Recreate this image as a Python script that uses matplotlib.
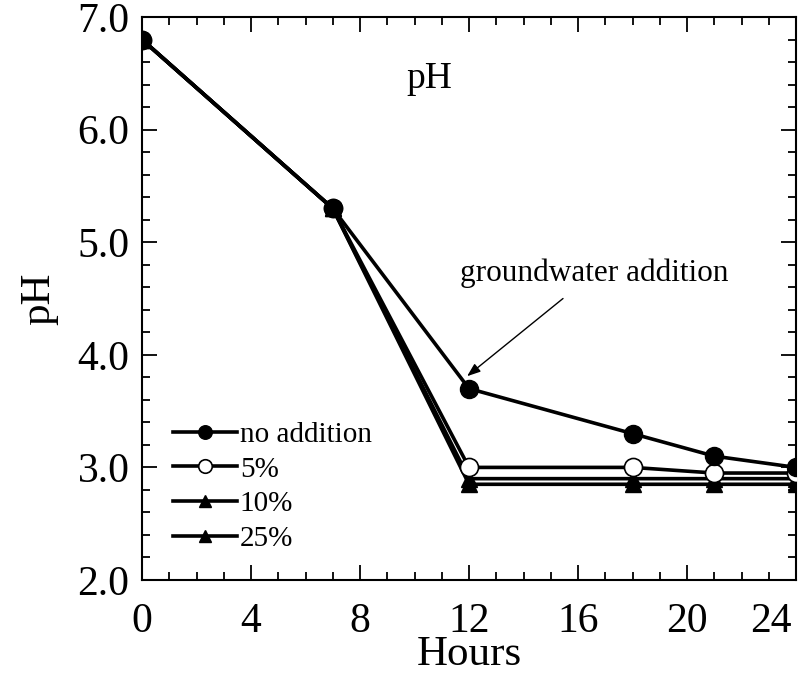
import matplotlib
matplotlib.use("Agg")
import matplotlib.pyplot as plt
from matplotlib.ticker import MultipleLocator
from matplotlib.transforms import ScaledTranslation

plt.rcParams['font.family'] = ['Liberation Serif', 'DejaVu Serif']

hours = [0, 7, 12, 18, 21, 24]
ph_none = [6.8, 5.3, 3.7, 3.3, 3.1, 3.0]
ph_5 = [6.8, 5.3, 3.0, 3.0, 2.95, 2.95]
ph_10 = [6.8, 5.3, 2.9, 2.9, 2.9, 2.9]
ph_25 = [6.8, 5.3, 2.85, 2.85, 2.85, 2.85]
labels = ['no addition', '5%', '10%', '25%']
xticks = [0, 4, 8, 12, 16, 20, 24]
yticks = [2.0, 3.0, 4.0, 5.0, 6.0, 7.0]

fig = plt.figure(figsize=(8.05, 6.74), dpi=100)
ax = fig.add_axes([142/805, 1-580/674, (796-142)/805, (580-17)/674])

lw = 2.6
ax.plot(hours, ph_25, '-^', color='black', lw=lw, ms=12, mfc='black', mec='black', label=labels[3], zorder=3)
ax.plot(hours, ph_10, '-^', color='black', lw=lw, ms=12, mfc='black', mec='black', label=labels[2], zorder=3)
ax.plot(hours, ph_5, '-o', color='black', lw=lw, ms=13, mfc='white', mec='black', mew=1.2, label=labels[1], zorder=4)
ax.plot(hours, ph_none, '-o', color='black', lw=lw, ms=13, mfc='black', mec='black', label=labels[0], zorder=5)

ax.set_xlim(0, 24)
ax.set_ylim(2.0, 7.0)
ax.set_xticks(xticks)
ax.set_xticklabels([str(v) for v in xticks])
ax.xaxis.set_minor_locator(MultipleLocator(1))
ax.set_yticks(yticks)
ax.set_yticklabels([f"{v:.1f}" for v in yticks])
ax.yaxis.set_minor_locator(MultipleLocator(0.2))
ax.tick_params(which='both', direction='in', top=True, right=True, width=1.3)
ax.tick_params(which='major', length=11, labelsize=30)
ax.tick_params(axis='y', which='major', pad=9)
ax.tick_params(axis='x', which='major', pad=16)
ax.tick_params(which='minor', length=6)
for s in ax.spines.values():
    s.set_linewidth(1.5)

last = ax.get_xticklabels()[-1]
last.set_ha('right')
last.set_transform(last.get_transform() + ScaledTranslation(-4/100, 0, fig.dpi_scale_trans))

ax.set_xlabel('Hours', fontsize=31, labelpad=-4)
ax.set_ylabel('pH', fontsize=31, labelpad=14)
ax.text(10.55, 6.45, 'pH', fontsize=27, ha='center', va='center')

ax.text(16.6, 4.72, 'groundwater addition', fontsize=22.5, ha='center', va='center')
ax.annotate('', xy=(11.93, 3.81), xytext=(15.45, 4.50),
            arrowprops=dict(arrowstyle='-|>,head_length=0.8,head_width=0.3',
                            color='black', lw=1.0, shrinkA=0, shrinkB=0))

handles, labs = ax.get_legend_handles_labels()
order = [3, 2, 1, 0]
leg = ax.legend([handles[i] for i in order], [labs[i] for i in order],
                loc='upper left', bbox_to_anchor=(0.029, 0.302), frameon=False,
                fontsize=21, handlelength=2.2, handletextpad=0.1,
                labelspacing=0.28, borderaxespad=0, markerscale=0.75)

fig.savefig('out.png', dpi=100)
